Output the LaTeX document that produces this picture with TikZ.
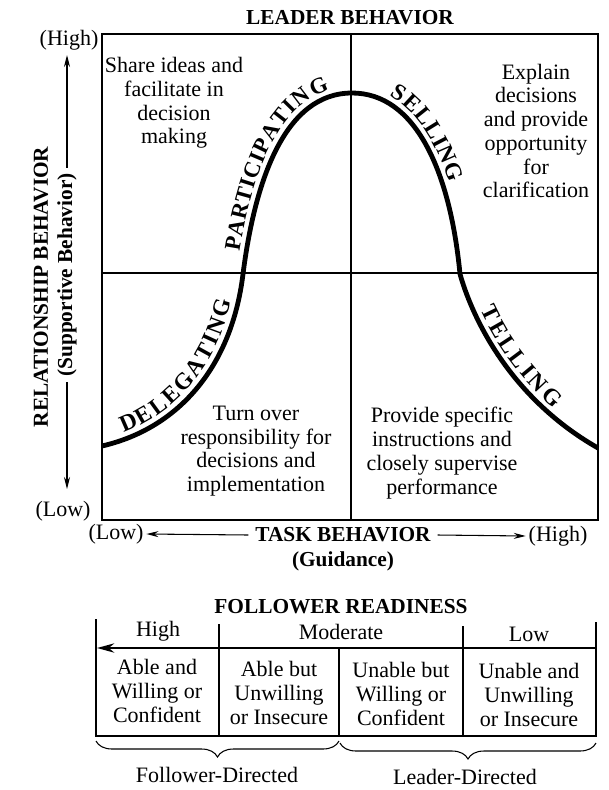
\documentclass[tikz,border=0pt]{standalone}
\usepackage{fontspec}
\setmainfont{Liberation Serif}
\usetikzlibrary{arrows.meta,decorations.text,decorations.pathreplacing}
\begin{document}
\begin{tikzpicture}[x=0.75pt,y=-0.75pt,
  body/.style={font=\fontsize{16.5}{17.8}\selectfont, align=center, inner sep=0pt},
  bold/.style={font=\bfseries\fontsize{16}{18}\selectfont, inner sep=0pt},
  frame/.style={line width=1.2pt},
  grid/.style={line width=0.8pt},
  curve/.style={line width=3.6pt},
  axarrow/.style={line width=0.8pt, -{Stealth[length=9pt,width=4.5pt]}},
  bracestyle/.style={decorate, decoration={brace, mirror, amplitude=12pt}, line width=0.8pt}
]
\useasboundingbox (0,0) rectangle (608,790);

% ---------- titles and axes ----------
\node[bold] (leader) at (350,18) {LEADER BEHAVIOR};
\node[body] (relhigh) at (69,40) {(High)};
\node[body] (rellow) at (63,511) {(Low)};
\node[bold, rotate=90] (relb) at (41,287) {RELATIONSHIP BEHAVIOR};
\node[bold, rotate=90, inner sep=4pt] (supp) at (67,275) {(Supportive Behavior)};
\coordinate (uptip) at (67,55);
\coordinate (downtip) at (67,489);
\draw[axarrow] (supp.east) -- (uptip);
\draw[axarrow] (supp.west) -- (downtip);

% ---------- grid ----------
\draw[frame] (102,34) rectangle (598,520);
\draw[grid] (351,34) -- (351,520);
\draw[grid] (102,273) -- (598,273);

% ---------- curve ----------
\draw[curve] (102,446) .. controls (180,428) and (232,365) .. (243,274)
  .. controls (255,180) and (285,93) .. (352,93)
  .. controls (415,93) and (450,170) .. (460,274)
  .. controls (470,310) and (505,395) .. (598,448);

\path[decorate, decoration={text along path,
  text={|\bfseries\fontsize{17.5}{17.5}\selectfont|DELEGATING}, raise=5pt,
  text align={fit to path, left indent=19pt, right indent=22pt}}]
  (102,446) .. controls (180,428) and (232,365) .. (243,274);
\path[decorate, decoration={text along path,
  text={|\bfseries\fontsize{17}{17}\selectfont|PARTICIPATING}, raise=5pt,
  text align={fit to path, left indent=16pt, right indent=15pt}}]
  (243,274) .. controls (255,180) and (285,93) .. (352,93);
\path[decorate, decoration={text along path,
  text={|\bfseries\fontsize{17.5}{17.5}\selectfont|SELLING}, raise=5pt,
  text align={fit to path, left indent=26pt, right indent=68pt}}]
  (352,93) .. controls (415,93) and (450,170) .. (460,274);
\path[decorate, decoration={text along path,
  text={|\bfseries\fontsize{17.5}{17.5}\selectfont|TELLING}, raise=5pt,
  text align={fit to path, left indent=31pt, right indent=45pt}}]
  (460,274) .. controls (470,310) and (505,395) .. (598,448);

% ---------- quadrant texts ----------
\node[body] (q1) at (174,103) {Share ideas and\\facilitate in\\decision\\making};
\node[body] (q2) at (536,131) {Explain\\decisions\\and provide\\opportunity\\for\\clarification};
\node[body] (q3) at (256,451) {Turn over\\responsibility for\\decisions and\\implementation};
\node[body] (q4) at (442,453) {Provide specific\\instructions and\\closely supervise\\performance};

% ---------- task axis ----------
\node[bold] (task) at (343,535) {TASK BEHAVIOR};
\node[bold] (guid) at (343,561) {(Guidance)};
\node[body] (tlow) at (116,534) {(Low)};
\node[body] (thigh) at (558,536) {(High)};
\draw[axarrow] ([xshift=-5pt]task.west) -- ([xshift=2pt]tlow.east);
\draw[axarrow] ([xshift=5pt]task.east) -- ([xshift=-2pt]thigh.west);

% ---------- follower readiness ----------
\node[bold] (fr) at (341,607) {FOLLOWER READINESS};
\draw[frame] (96,619) -- (96,736) -- (596,736) -- (596,622);
\draw[grid] (219,624) -- (219,736);
\draw[grid] (463,626) -- (463,736);
\draw[grid] (339,648) -- (339,736);
\coordinate (rtop) at (596,648);
\coordinate (ltip) at (97,648);
\draw[line width=1.5pt, -{Stealth[length=13pt,width=7pt]}] (rtop) -- (ltip);

\node[body] (hh) at (158,631) {High};
\node[body] (hm) at (341,632) {Moderate};
\node[body] (hl) at (529,634) {Low};

\node[body] (c1) at (157,691) {Able and\\Willing or\\Confident};
\node[body] (c2) at (279,693) {Able but\\Unwilling\\or Insecure};
\node[body] (c3) at (401,694) {Unable but\\Willing or\\Confident};
\node[body] (c4) at (529,695) {Unable and\\Unwilling\\or Insecure};

\coordinate (b1s) at (96,741);
\coordinate (b1e) at (339,741);
\coordinate (b2s) at (340,743);
\coordinate (b2e) at (596,743);
\draw[bracestyle] (b1s) -- (b1e);
\draw[bracestyle] (b2s) -- (b2e);
\node[body] (fd) at (217,775) {Follower-Directed};
\node[body] (ld) at (465,777) {Leader-Directed};
\end{tikzpicture}
\end{document}
